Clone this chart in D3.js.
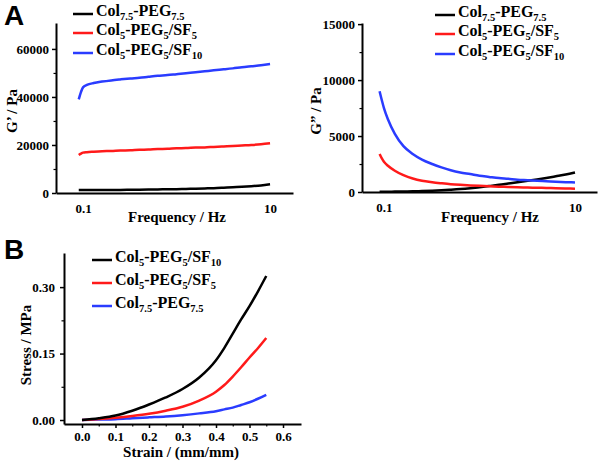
<!DOCTYPE html>
<html><head><meta charset="utf-8">
<script src="https://cdn.jsdelivr.net/npm/d3@7"></script>
<style>
html,body{margin:0;padding:0;background:#fff;}
svg{display:block;}
text{font-family:"Liberation Serif","Times New Roman",serif;font-weight:bold;fill:#000;}
</style></head>
<body>
<svg id="c" width="600" height="463"></svg>
<script>
// ---------- DATA ----------
const freq = [0.09, 0.095, 0.1, 0.11, 0.13, 0.16, 0.2, 0.25, 0.32, 0.4, 0.5, 0.63, 0.8, 1, 1.26, 1.6, 2, 2.5, 3.2, 4, 5, 6.3, 8, 10];

// G' (Pa)
const gStorCol75 = [1200, 1200, 1200, 1200, 1250, 1250, 1300, 1300, 1350, 1400, 1450, 1500, 1550, 1600, 1700, 1800, 1900, 2000, 2200, 2400, 2600, 2850, 3150, 3600];
const gStorSF5   = [15800, 16400, 16800, 17000, 17200, 17400, 17500, 17700, 17800, 18000, 18100, 18300, 18400, 18600, 18700, 18900, 19000, 19200, 19400, 19600, 19800, 20000, 20300, 20700];
const gStorSF10  = [39000, 42000, 44000, 45000, 45800, 46400, 46900, 47300, 47700, 48000, 48400, 48800, 49100, 49500, 49900, 50300, 50700, 51100, 51500, 51900, 52400, 52800, 53200, 53700];

// G'' (Pa)
const gLossCol75 = [20, 20, 25, 30, 35, 45, 60, 80, 110, 150, 200, 260, 340, 430, 530, 640, 760, 880, 1000, 1120, 1250, 1400, 1560, 1750];
const gLossSF5   = [3400, 3000, 2700, 2350, 1900, 1500, 1200, 1000, 870, 780, 700, 640, 590, 550, 510, 480, 450, 420, 400, 380, 360, 340, 320, 300];
const gLossSF10  = [9000, 8200, 7500, 6500, 5200, 4100, 3400, 2900, 2500, 2200, 1950, 1750, 1600, 1450, 1350, 1250, 1180, 1100, 1050, 1000, 960, 920, 880, 850];

// Stress-strain
const strain      = [0, 0.05, 0.1, 0.15, 0.2, 0.25, 0.3, 0.35, 0.4, 0.425, 0.45, 0.475, 0.5, 0.525, 0.55];
const stressSF10  = [0, 0.004, 0.010, 0.021, 0.035, 0.051, 0.070, 0.096, 0.135, 0.163, 0.195, 0.227, 0.257, 0.290, 0.325];
const stressSF5   = [0, 0.002, 0.005, 0.009, 0.014, 0.021, 0.030, 0.044, 0.064, 0.079, 0.098, 0.119, 0.141, 0.162, 0.185];
const stressCol75 = [0, 0.001, 0.002, 0.004, 0.006, 0.008, 0.011, 0.015, 0.020, 0.024, 0.028, 0.034, 0.040, 0.048, 0.057];

const labelCol75 = "Col_{7.5}-PEG_{7.5}";
const labelSF5   = "Col_{5}-PEG_{5}/SF_{5}";
const labelSF10  = "Col_{5}-PEG_{5}/SF_{10}";

const freqTicks = [0.1, 10];
const gStorTicks = [0, 20000, 40000, 60000];
const gStorMinor = [10000, 30000, 50000];
const gLossTicks = [0, 5000, 10000, 15000];
const gLossMinor = [2500, 7500, 12500];
const strainTicks = [0.0, 0.1, 0.2, 0.3, 0.4, 0.5, 0.6];
const strainMinor = [0.05, 0.15, 0.25, 0.35, 0.45, 0.55];
const stressTicks = [0.00, 0.15, 0.30];
const stressMinor = [0.075, 0.225];

const BLACK = "#000000", RED = "#ff1a1a", BLUE = "#2a3cff";
const SERIF = "'Liberation Serif','Times New Roman',serif";

// ---------- DRAW ----------
const svg = d3.select("#c");
svg.append("rect").attr("width", 600).attr("height", 463).attr("fill", "#fff");

function richText(sel, str, mainSize, subSize) {
  const parts = str.split(/(_\{[^}]*\})/).filter(s => s.length);
  let first = true;
  parts.forEach(p => {
    if (p.startsWith("_{")) {
      sel.append("tspan").text(p.slice(2, -1)).attr("font-size", subSize).attr("dy", 4.5);
    } else {
      sel.append("tspan").text(p).attr("font-size", mainSize).attr("dy", first ? 0 : -4.5);
    }
    first = false;
  });
}

function legend(g, x, ys, entries) {
  entries.forEach((e, i) => {
    g.append("line").attr("x1", x).attr("x2", x + 20).attr("y1", ys[i]).attr("y2", ys[i])
      .attr("stroke", e.color).attr("stroke-width", 2.5);
    const t = g.append("text").attr("x", x + 23).attr("y", ys[i] + 1.5);
    richText(t, e.label, 16, 10.5);
  });
}

function styleAxis(g, w) {
  g.select(".domain").attr("stroke", "#000").attr("stroke-width", w || 2);
  g.selectAll(".tick line").attr("stroke", "#000").attr("stroke-width", 1.5);
  g.selectAll(".tick text").style("font-size", "13px").style("font-family", SERIF).style("font-weight", "bold");
}

function drawLine(g, xs, ys, xScale, yScale, color) {
  const pts = xs.map((d, i) => [xScale(d), yScale(ys[i])]);
  g.append("path").attr("d", d3.line().curve(d3.curveMonotoneX)(pts))
    .attr("fill", "none").attr("stroke", color).attr("stroke-width", 2.5)
    .attr("stroke-linejoin", "round");
}

function minor(g, axisFn, tx, ty) {
  g.append("g").attr("transform", `translate(${tx},${ty})`)
    .call(axisFn)
    .call(s => { s.select(".domain").remove(); s.selectAll("line").attr("stroke", "#000").attr("stroke-width", 1.2); });
}

// --- Panel A left: G' ---
(function(){
  const x = d3.scaleLog().domain([0.0514, 17.6]).range([56, 293]);
  const y = d3.scaleLinear().domain([0, 70800]).range([193, 23]);
  const g = svg.append("g");
  drawLine(g, freq, gStorCol75, x, y, BLACK);
  drawLine(g, freq, gStorSF5, x, y, RED);
  drawLine(g, freq, gStorSF10, x, y, BLUE);
  const ax = g.append("g").attr("transform", "translate(0,193)")
    .call(d3.axisBottom(x).tickValues(freqTicks).tickFormat(d3.format("")).tickSizeInner(0).tickSizeOuter(0).tickPadding(11));
  styleAxis(ax);
  const ay = g.append("g").attr("transform", "translate(56,0)")
    .call(d3.axisLeft(y).tickValues(gStorTicks).tickFormat(d3.format("d")).tickSizeInner(4).tickSizeOuter(0).tickPadding(3));
  styleAxis(ay);
  minor(g, d3.axisLeft(y).tickValues(gStorMinor).tickFormat("").tickSizeInner(2.5).tickSizeOuter(0), 56, 0);
  g.append("text").attr("x", 177).attr("y", 222).attr("text-anchor", "middle").attr("font-size", 15).text("Frequency / Hz");
  g.append("text").attr("transform", "translate(17,111) rotate(-90)").attr("text-anchor", "middle").attr("font-size", 15).text("G\u2019 / Pa");
  legend(g, 73, [14, 33, 53], [
    {label: labelCol75, color: BLACK},
    {label: labelSF5, color: RED},
    {label: labelSF10, color: BLUE}]);
  svg.append("text").attr("x", 4).attr("y", 25).attr("font-size", 28)
    .style("font-family", "'Liberation Sans',Arial,sans-serif").text("A");
})();

// --- Panel A right: G'' ---
(function(){
  const x = d3.scaleLog().domain([0.0589, 17.0]).range([362, 597]);
  const y = d3.scaleLinear().domain([0, 15100]).range([192, 23]);
  const g = svg.append("g");
  drawLine(g, freq, gLossCol75, x, y, BLACK);
  drawLine(g, freq, gLossSF5, x, y, RED);
  drawLine(g, freq, gLossSF10, x, y, BLUE);
  const ax = g.append("g").attr("transform", "translate(0,192)")
    .call(d3.axisBottom(x).tickValues(freqTicks).tickFormat(d3.format("")).tickSizeInner(0).tickSizeOuter(0).tickPadding(11));
  styleAxis(ax);
  const ay = g.append("g").attr("transform", "translate(362,0)")
    .call(d3.axisLeft(y).tickValues(gLossTicks).tickFormat(d3.format("d")).tickSizeInner(4).tickSizeOuter(0).tickPadding(3));
  styleAxis(ay);
  minor(g, d3.axisLeft(y).tickValues(gLossMinor).tickFormat("").tickSizeInner(2.5).tickSizeOuter(0), 362, 0);
  g.append("text").attr("x", 490).attr("y", 222).attr("text-anchor", "middle").attr("font-size", 15).text("Frequency / Hz");
  g.append("text").attr("transform", "translate(321,111) rotate(-90)").attr("text-anchor", "middle").attr("font-size", 15).text("G\u201D / Pa");
  legend(g, 435, [15, 34, 54], [
    {label: labelCol75, color: BLACK},
    {label: labelSF5, color: RED},
    {label: labelSF10, color: BLUE}]);
})();

// --- Panel B: stress-strain ---
(function(){
  const x = d3.scaleLinear().domain([-0.0537, 0.6537]).range([64, 301]);
  const y = d3.scaleLinear().domain([-0.009, 0.377]).range([424, 253]);
  const g = svg.append("g");
  drawLine(g, strain, stressCol75, x, y, BLUE);
  drawLine(g, strain, stressSF5, x, y, RED);
  drawLine(g, strain, stressSF10, x, y, BLACK);
  const ax = g.append("g").attr("transform", "translate(0,424)")
    .call(d3.axisBottom(x).tickValues(strainTicks).tickFormat(d3.format(".1f")).tickSizeInner(4).tickSizeOuter(0).tickPadding(4));
  styleAxis(ax);
  minor(g, d3.axisBottom(x).tickValues(strainMinor).tickFormat("").tickSizeInner(2.5).tickSizeOuter(0), 0, 424);
  const ay = g.append("g").attr("transform", "translate(64,0)")
    .call(d3.axisLeft(y).tickValues(stressTicks).tickFormat(d3.format(".2f")).tickSizeInner(4).tickSizeOuter(0).tickPadding(5));
  styleAxis(ay);
  minor(g, d3.axisLeft(y).tickValues(stressMinor).tickFormat("").tickSizeInner(2.5).tickSizeOuter(0), 64, 0);
  g.append("text").attr("x", 181).attr("y", 457).attr("text-anchor", "middle").attr("font-size", 15).text("Strain / (mm/mm)");
  g.append("text").attr("transform", "translate(31,345) rotate(-90)").attr("text-anchor", "middle").attr("font-size", 15).text("Stress / MPa");
  legend(g, 92, [260, 283, 306], [
    {label: labelSF10, color: BLACK},
    {label: labelSF5, color: RED},
    {label: labelCol75, color: BLUE}]);
  svg.append("text").attr("x", 4).attr("y", 259).attr("font-size", 28)
    .style("font-family", "'Liberation Sans',Arial,sans-serif").text("B");
})();
</script>
</body></html>
